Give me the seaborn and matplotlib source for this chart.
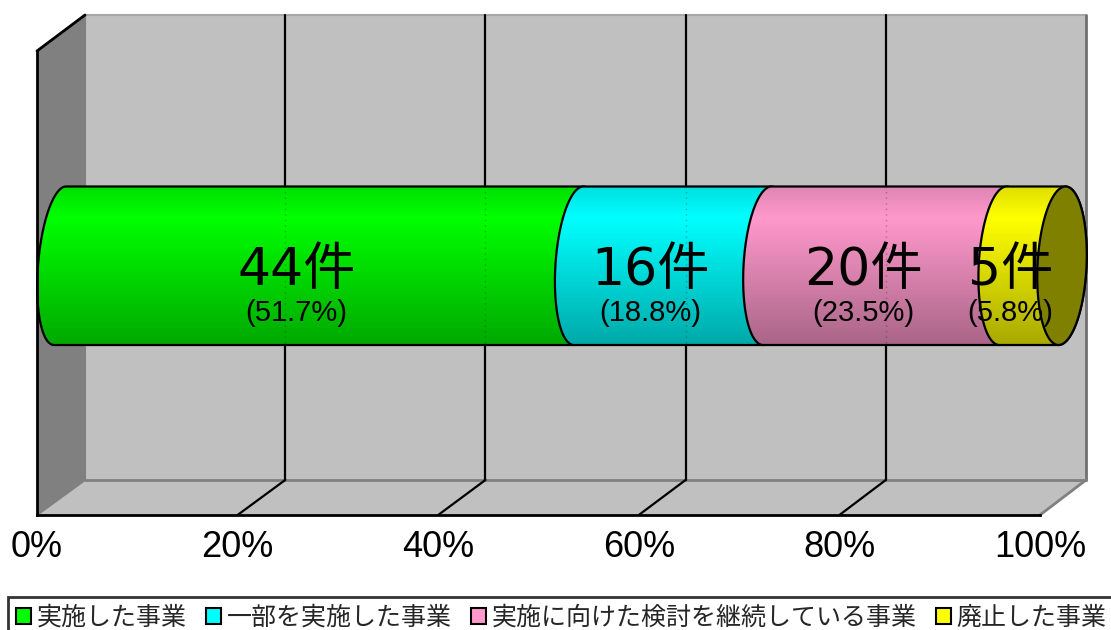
import numpy as np
import pandas as pd
import matplotlib
matplotlib.use("Agg")
import matplotlib.pyplot as plt
import seaborn as sns
from matplotlib.path import Path
from matplotlib.patches import PathPatch, Polygon, Patch
from matplotlib.colors import to_rgb

# ---------------- data ----------------
categories = ["実施した事業", "一部を実施した事業", "実施に向けた検討を継続している事業", "廃止した事業"]
counts = [44, 16, 20, 5]
count_labels = ["44件", "16件", "20件", "5件"]
pct_labels = ["(51.7%)", "(18.8%)", "(23.5%)", "(5.8%)"]
tick_values = [0, 20, 40, 60, 80, 100]
tick_labels = ["0%", "20%", "40%", "60%", "80%", "100%"]
colors = ["#00FF00", "#00FFFF", "#FF99CC", "#FFFF00"]
cap_color = "#808000"

total = sum(counts)
shares = [c / total * 100 for c in counts]
starts = list(np.cumsum([0] + shares[:-1]))

# ---------------- style ----------------
sns.set_style("white")
plt.rcParams["font.family"] = ["Noto Sans CJK JP", "DejaVu Sans"]

W, H = 1111, 630
fig = plt.figure(figsize=(W / 100, H / 100), dpi=100)

# geometry of the 3-D box (pixels)
FL, FR = 37, 1040        # front plane 0% / 100%
BL, BR = 85, 1086        # back plane 0% / 100%
FLOOR_F, FLOOR_B = 515, 480
TOP_B, TOP_F = 15, 51

def front_px(v):
    return FL + (FR - FL) * v / 100.0

def back_px(v):
    return BL + (BR - BL) * v / 100.0

# ---------------- background walls ----------------
ax_bg = fig.add_axes([0, 0, 1, 1])
ax_bg.set_xlim(0, W)
ax_bg.set_ylim(H, 0)
ax_bg.axis("off")
ax_bg.set_zorder(0)

ax_bg.add_patch(Polygon([(BL, TOP_B), (BR, TOP_B), (BR, FLOOR_B), (BL, FLOOR_B)],
                        closed=True, fc="#C0C0C0", ec="none"))
ax_bg.add_patch(Polygon([(FL, TOP_F), (BL, TOP_B), (BL, FLOOR_B), (FL, FLOOR_F)],
                        closed=True, fc="#808080", ec="none"))
ax_bg.add_patch(Polygon([(FL, FLOOR_F), (BL, FLOOR_B), (BR, FLOOR_B), (FR, FLOOR_F)],
                        closed=True, fc="#C0C0C0", ec="none"))
g = "#808080"
ax_bg.plot([BL, BR], [TOP_B, TOP_B], color="#A8A8A8", lw=1.5)
ax_bg.plot([BL, BL], [TOP_B, FLOOR_B], color=g, lw=1.5)
ax_bg.plot([BR, BR], [TOP_B, FLOOR_B], color="#707070", lw=2)
ax_bg.plot([BL, BR], [FLOOR_B, FLOOR_B], color=g, lw=2)
ax_bg.plot([FR, BR], [FLOOR_F, FLOOR_B], color=g, lw=2)
ax_bg.plot([FL, BL], [FLOOR_F, FLOOR_B], color=g, lw=1.5)
ax_bg.plot([FL, BL], [TOP_F, TOP_B], color="black", lw=2)
for v in tick_values[1:-1]:
    ax_bg.plot([back_px(v), back_px(v)], [TOP_B, FLOOR_B], color="black", lw=1.6)
    ax_bg.plot([back_px(v), front_px(v)], [FLOOR_B, FLOOR_F], color="black", lw=1.6)

# ---------------- cylinders (seaborn bars) ----------------
ax = fig.add_axes([0, 0, 1, 1])
ax.set_zorder(1)
ax.patch.set_alpha(0)
df = pd.DataFrame({"row": ["all"] * 4, "share": shares, "start": starts, "cat": categories})
for i in range(len(categories)):
    sns.barplot(data=df.iloc[[i]], x="share", y="row", orient="h", color=colors[i],
                saturation=1, errorbar=None, width=0.8, left=starts[i], ax=ax)

C0_PX, C100_PX = 60, 1062      # cylinder axis at 0% / 100%
CX_PX = (C100_PX - C0_PX) / 100.0
cy_px, half_px = 265.75, 79.25
ypu = half_px / 0.4
XLIM = (-C0_PX / CX_PX, (W - C0_PX) / CX_PX)
YLIM = ((H - cy_px) / ypu, -cy_px / ypu)
ax.axis("off")

def ell_params(v):
    a = (22 + 2.5 * v / 100) / CX_PX
    k = (6 - 2.5 * v / 100) / CX_PX
    return a, k

def arc(cx, cy, b, v, t0, t1, n=80):
    a, k = ell_params(v)
    t = np.linspace(t0, t1, n)
    return np.column_stack([cx + a * np.cos(t) + k * np.sin(t), cy - b * np.sin(t)])

def shade(color, n=300):
    t = np.linspace(0, 1, n)
    m = np.where(t < 0.2, 0.87 + 0.13 * t / 0.2, 1.0 - 0.34 * (t - 0.2) / 0.8)
    rgb = np.array(to_rgb(color))
    return (m[:, None] * rgb[None, :])[:, None, :]

bars = list(ax.patches)
for i, p in enumerate(bars):
    x0, w = p.get_x(), p.get_width()
    y0, h = p.get_y(), p.get_height()
    cy, b = y0 + h / 2, h / 2
    x1 = x0 + w
    p.set_visible(False)
    left = arc(x0, cy, b, x0, np.pi / 2, 3 * np.pi / 2)
    right = arc(x1, cy, b, x1, 3 * np.pi / 2, 5 * np.pi / 2)
    verts = np.vstack([left, right, left[:1]])
    codes = [Path.MOVETO] + [Path.LINETO] * (len(verts) - 2) + [Path.CLOSEPOLY]
    body = PathPatch(Path(verts, codes), fc="none", ec="black", lw=1.6, zorder=3 + 2 * i + 1)
    ax.add_patch(body)
    im = ax.imshow(shade(colors[i]), extent=(x0 - 4, x1 + 4, y0 + h, y0),
                   origin="upper", aspect="auto", zorder=3 + 2 * i, interpolation="bilinear")
    im.set_clip_path(body)
    if i == len(bars) - 1:
        cap = arc(x1, cy, b, x1, 0, 2 * np.pi, 160)
        ax.add_patch(Polygon(cap, closed=True, fc=cap_color, ec="black", lw=1.6, zorder=20))

# faint gridlines seen through the cylinders
for v in tick_values[1:-1]:
    xg = (back_px(v) - C0_PX) / CX_PX
    ax.plot([xg, xg], [-0.4, 0.4], color="black", lw=1, ls=(0, (1, 3)), alpha=0.25, zorder=15)

ax.set_xlim(*XLIM)
ax.set_ylim(*YLIM)

# ---------------- front axis: ticks and labels ----------------
ax_f = fig.add_axes([FL / W, (H - FLOOR_F) / H, (FR - FL) / W, FLOOR_F / H])
ax_f.set_zorder(2)
ax_f.patch.set_alpha(0)
ax_f.set_xlim(0, 100)
ax_f.set_ylim(FLOOR_F, 0)
for s in ["top", "right"]:
    ax_f.spines[s].set_visible(False)
ax_f.spines["left"].set_bounds(TOP_F, FLOOR_F)
for s in ["left", "bottom"]:
    ax_f.spines[s].set_color("black")
    ax_f.spines[s].set_linewidth(2)
ax_f.set_xticks(tick_values)
ax_f.set_xticklabels(tick_labels, fontsize=26,
                     fontfamily=["Liberation Sans Narrow", "Liberation Sans"])
ax_f.tick_params(axis="x", direction="in", length=4, width=1.5, pad=11, colors="black")
ax_f.set_yticks([TOP_F])
ax_f.set_yticklabels([""])
ax_f.tick_params(axis="y", direction="in", length=5, width=1.5, colors="black")

for i in range(len(categories)):
    mid = starts[i] + shares[i] / 2
    ax_f.text(mid, 285, count_labels[i], ha="center", va="baseline", fontsize=37.5,
              fontfamily=["DejaVu Sans", "Noto Sans CJK JP"], color="black")
    ax_f.text(mid, 321, pct_labels[i], ha="center", va="baseline", fontsize=21,
              fontfamily=["Liberation Sans", "DejaVu Sans"], color="black")

# ---------------- legend ----------------
handles = [Patch(facecolor=c, edgecolor="black", lw=1.5) for c in colors]
leg = fig.legend(handles, categories, loc="upper left",
                 bbox_to_anchor=(8 / W, 1 - 597 / H), ncol=4, frameon=True,
                 fancybox=False, edgecolor="black", fontsize=18,
                 handlelength=0.6, handleheight=0.6, handletextpad=0.25,
                 columnspacing=0.75, borderpad=0.3, borderaxespad=0)
leg.get_frame().set_linewidth(2)

fig.savefig("out.png", dpi=100)
